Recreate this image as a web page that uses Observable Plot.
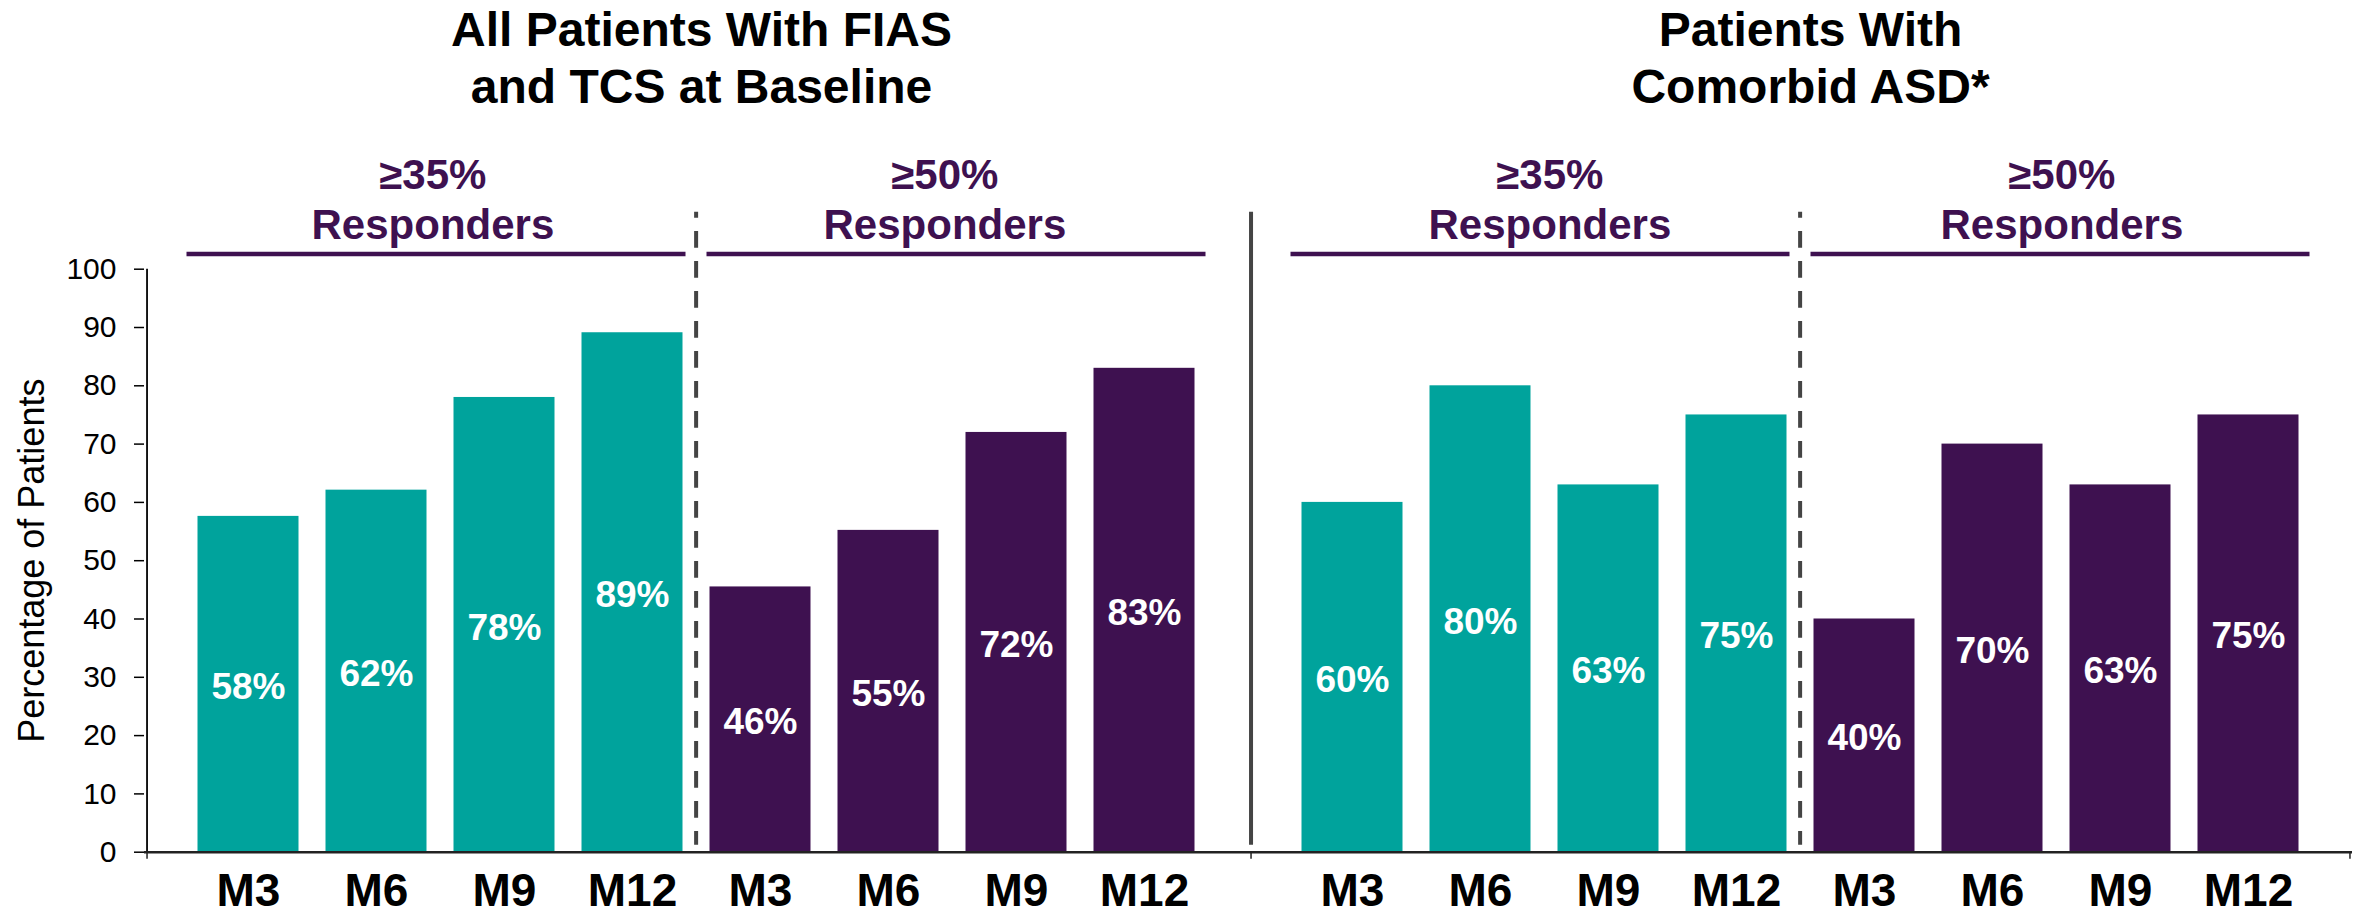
<!DOCTYPE html>
<html>
<head>
<meta charset="utf-8">
<script src="https://cdn.jsdelivr.net/npm/d3@7"></script>
<script src="https://cdn.jsdelivr.net/npm/@observablehq/plot@0.6"></script>
<style>
  html, body { margin: 0; padding: 0; background: #fff; }
  #chart svg { display: block; }
</style>
</head>
<body>
<div id="chart"></div>
<script>
// ---------- data ----------
const groups = ["All Patients With FIAS\nand TCS at Baseline", "Patients With\nComorbid ASD*"];
const thresholds = ["≥35%", "≥50%"];
const months = ["M3", "M6", "M9", "M12"];

const allPatients35 = [57.6, 62.1, 78.0, 89.1];
const allPatients50 = [45.5, 55.2, 72.0, 83.0];
const asd35 = [60, 80, 63, 75];
const asd50 = [40, 70, 63, 75];

const allPatients35Labels = ["58%", "62%", "78%", "89%"];
const allPatients50Labels = ["46%", "55%", "72%", "83%"];
const asd35Labels = ["60%", "80%", "63%", "75%"];
const asd50Labels = ["40%", "70%", "63%", "75%"];

const yTicks = [0, 10, 20, 30, 40, 50, 60, 70, 80, 90, 100];
const yLabel = "Percentage of Patients";
const headerSuffix = "Responders";

// ---------- table ----------
const seriesValues = [[allPatients35, allPatients50], [asd35, asd50]];
const seriesLabels = [[allPatients35Labels, allPatients50Labels], [asd35Labels, asd50Labels]];
const keyOf = (t, m) => t + "|" + m;
const keys = thresholds.flatMap(t => months.map(m => keyOf(t, m)));
const rows = [];
groups.forEach((g, gi) => thresholds.forEach((t, ti) => months.forEach((m, mi) => {
  rows.push({group: g, threshold: t, month: m, key: keyOf(t, m),
             value: seriesValues[gi][ti][mi], label: seriesLabels[gi][ti][mi]});
})));
const headers = groups.flatMap(g => thresholds.map(t => ({group: g, threshold: t})));

// ---------- layout ----------
const W = 2359, H = 914;
const mt = 268.7, mb = 62.3, ml = 143.5, mr = 7;
const padIn = 0.212, padOut = 0.394;
const facetW = (W - ml - mr) / 2;
const step = facetW / (keys.length - padIn + 2 * padOut);
const bw = step * (1 - padIn);
const edgeOffset = padOut * step + bw / 2; // band centre of first band -> facet edge

const teal = "#00a39c";
const purple = "#3e1150";
const grey = "#444444";
const font = "'Liberation Sans', Arial, Helvetica, sans-serif";

const chart = Plot.plot({
  width: W,
  height: H,
  marginTop: mt,
  marginBottom: mb,
  marginLeft: ml,
  marginRight: mr,
  style: {fontFamily: font, background: "#fff", color: "#000", overflow: "visible"},
  fx: {domain: groups, padding: 0, axis: null},
  x: {domain: keys, paddingInner: padIn, paddingOuter: padOut, align: 0.5, axis: null},
  y: {domain: [0, 100]},
  color: {domain: thresholds, range: [teal, purple]},
  marks: [
    // bars
    Plot.barY(rows, {fx: "group", x: "key", y: "value", fill: "threshold"}),
    // value labels
    Plot.text(rows, {fx: "group", x: "key", y: d => d.value / 2, text: "label",
      fill: "#fff", fontSize: 37, fontWeight: "bold", dy: 3}),
    // y axis
    Plot.axisY({ticks: yTicks, tickSize: 10, tickPadding: 18, fontSize: 30, label: null,
      strokeWidth: 1.5, fill: "#000"}),
    Plot.ruleX([groups[0]], {fx: d => d, x: () => keys[0], dx: -edgeOffset,
      stroke: "#000", strokeWidth: 1.8}),
    Plot.text([yLabel], {fx: () => groups[0], frameAnchor: "left", rotate: -90,
      textAnchor: "middle", lineAnchor: "bottom", dx: -100.5, fontSize: 36, fill: "#000"}),
    // baseline axis and its ticks
    Plot.ruleY([0], {stroke: "#222", strokeWidth: 2.6}),
    Plot.ruleX(groups, {fx: d => d, x: () => keys[0], y1: 0, y2: 0, dx: -edgeOffset,
      insetBottom: -7, stroke: "#222", strokeWidth: 1.5}),
    Plot.ruleX([groups[1]], {fx: d => d, x: () => keys[keys.length - 1], y1: 0, y2: 0, dx: edgeOffset,
      insetBottom: -7, stroke: "#222", strokeWidth: 1.5}),
    // solid separator between panels
    Plot.ruleX([groups[1]], {fx: d => d, x: () => keys[0], dx: -edgeOffset,
      insetTop: -57, insetBottom: 7, stroke: grey, strokeWidth: 4}),
    // dashed separators between responder groups
    Plot.ruleX(groups, {fx: d => d, x: () => keyOf(thresholds[1], months[0]), dx: -step / 2,
      insetTop: -57, insetBottom: 7, stroke: grey, strokeWidth: 4,
      strokeDasharray: "16.7,13.3", strokeDashoffset: 10.7}),
    // header rules
    Plot.ruleY(headers.filter(h => h.threshold === thresholds[0]), {fx: "group",
      x1: h => keyOf(h.threshold, months[0]), x2: h => keyOf(h.threshold, months[3]),
      y: () => 100, dy: -15.2, insetLeft: -11, insetRight: -3, stroke: purple, strokeWidth: 4.5}),
    Plot.ruleY(headers.filter(h => h.threshold === thresholds[1]), {fx: "group",
      x1: h => keyOf(h.threshold, months[0]), x2: h => keyOf(h.threshold, months[3]),
      y: () => 100, dy: -15.2, insetLeft: -3, insetRight: -11, stroke: purple, strokeWidth: 4.5}),
    // header texts
    Plot.text(headers.filter(h => h.group === groups[0]), {fx: "group",
      x: h => keyOf(h.threshold, months[1]), text: h => h.threshold + "\n" + headerSuffix,
      frameAnchor: "top", lineAnchor: "top", lineHeight: 1.19, dx: step / 2 - 8, dy: -115.9,
      fontSize: 42, fontWeight: "bold", fill: purple}),
    Plot.text(headers.filter(h => h.group === groups[1]), {fx: "group",
      x: h => keyOf(h.threshold, months[1]), text: h => h.threshold + "\n" + headerSuffix,
      frameAnchor: "top", lineAnchor: "top", lineHeight: 1.19, dx: step / 2 + 5, dy: -115.9,
      fontSize: 42, fontWeight: "bold", fill: purple}),
    // panel titles
    Plot.text([groups[0]], {fx: d => d, text: d => d, frameAnchor: "top", lineAnchor: "top",
      lineHeight: 1.2, dx: 5, dy: -264.6, fontSize: 48, fontWeight: "bold", fill: "#000"}),
    Plot.text([groups[1]], {fx: d => d, text: d => d, frameAnchor: "top", lineAnchor: "top",
      lineHeight: 1.2, dx: 10, dy: -264.6, fontSize: 48, fontWeight: "bold", fill: "#000"}),
    // month labels
    Plot.text(rows, {fx: "group", x: "key", text: "month", frameAnchor: "bottom",
      lineAnchor: "top", dy: 21, fontSize: 46, fontWeight: "bold", fill: "#000"})
  ]
});
document.getElementById("chart").appendChild(chart);
</script>
</body>
</html>
